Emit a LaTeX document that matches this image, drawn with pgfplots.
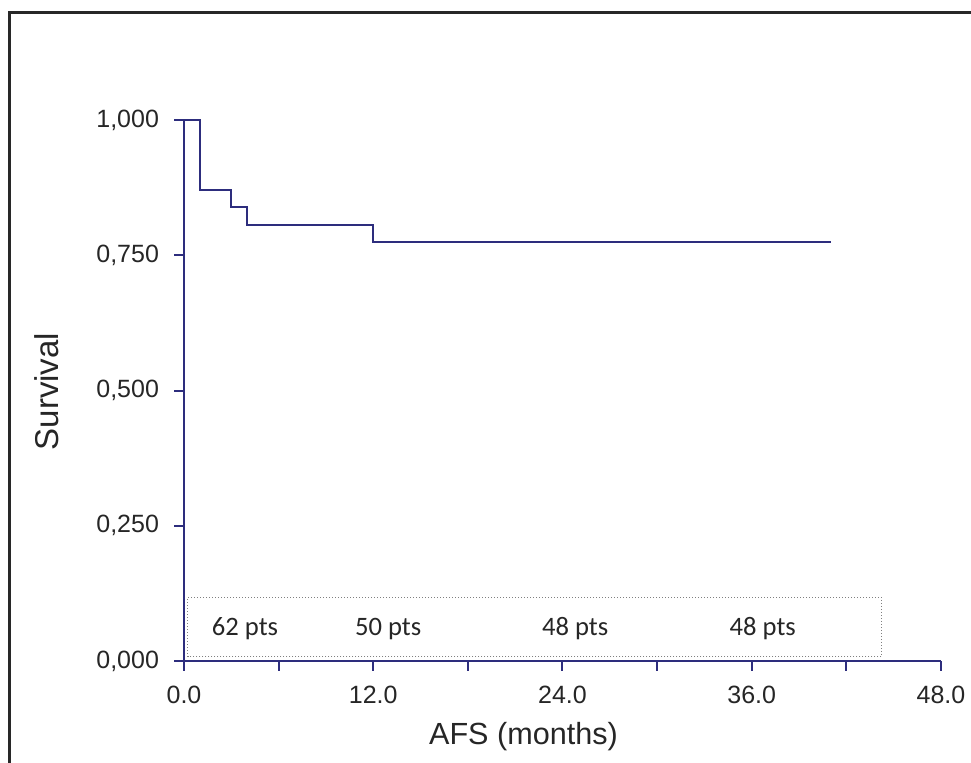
\documentclass[border=0pt]{standalone}
\usepackage{pgfplots}
\pgfplotsset{compat=1.18}
\usepackage{fontspec}
\setmainfont{Liberation Sans}
\newfontfamily\calib{Carlito}
\definecolor{navy}{RGB}{45,45,125}
\definecolor{frame}{RGB}{40,40,40}
\begin{document}
\begin{tikzpicture}
\useasboundingbox (0,0) rectangle (485.5pt,381pt);
\begin{axis}[
  at={(92pt,50.5pt)}, anchor=south west,
  width=378.5pt, height=270.5pt, scale only axis,
  xmin=0, xmax=48, ymin=0, ymax=1,
  axis x line=bottom, axis y line=left,
  axis line style={draw=navy, line width=1pt, -},
  every tick/.style={draw=navy, line width=1pt},
  tick align=outside,
  major tick length=5pt, minor tick length=5pt,
  xtick={0,12,24,36,48},
  xticklabels={0.0,12.0,24.0,36.0,48.0},
  minor xtick={6,18,30,42},
  ytick={0,0.25,0.5,0.75,1},
  yticklabels={{0,000},{0,250},{0,500},{0,750},{1,000}},
  ticklabel style={font=\fontsize{12.5pt}{14pt}\selectfont, text=black!85},
  yticklabel style={xshift=-4pt},
  xticklabel style={yshift=-4pt},
  xlabel={AFS (months)},
  ylabel={Survival},
  xlabel style={at={(axis description cs:0.4485,-0.139)}, anchor=center, font=\fontsize{15.3pt}{18pt}\selectfont, text=black!85},
  ylabel style={at={(axis description cs:-0.181,0.498)}, anchor=center, font=\fontsize{16.5pt}{19pt}\selectfont, text=black!85},
  clip=false,
]
\addplot[navy, line width=1pt, const plot] coordinates {
  (0,1) (1,0.871) (3,0.839) (4,0.806) (12,0.774) (41,0.774)
};
\draw[densely dotted, gray, line width=0.5pt] (axis cs:0.25,0.008) rectangle (axis cs:44.24,0.118);
\node[anchor=base, font=\calib\fontsize{13.3pt}{16pt}\selectfont, text=black!85] at (axis cs:3.87,0.048) {62 pts};
\node[anchor=base, font=\calib\fontsize{13.3pt}{16pt}\selectfont, text=black!85] at (axis cs:12.95,0.048) {50 pts};
\node[anchor=base, font=\calib\fontsize{13.3pt}{16pt}\selectfont, text=black!85] at (axis cs:24.8,0.048) {48 pts};
\node[anchor=base, font=\calib\fontsize{13.3pt}{16pt}\selectfont, text=black!85] at (axis cs:36.7,0.048) {48 pts};
\end{axis}
\draw[frame, line width=1.5pt] (4.5pt,-5pt) -- (4.5pt,374.5pt) -- (490pt,374.5pt);
\end{tikzpicture}
\end{document}
